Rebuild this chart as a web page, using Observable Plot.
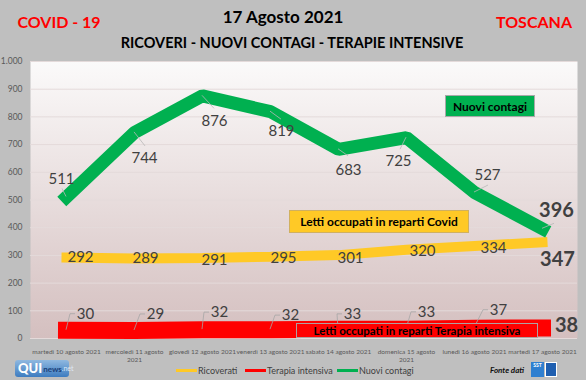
<!DOCTYPE html>
<html><head><meta charset="utf-8">
<script src="https://cdn.jsdelivr.net/npm/d3@7"></script>
<script src="https://cdn.jsdelivr.net/npm/@observablehq/plot@0.6"></script>
<style>
body{margin:0;background:#bfbfbf;font-family:Lato,"Open Sans",sans-serif;}
#wrap{position:relative;width:586px;height:380px;overflow:hidden;background:#bfbfbf;}
#wrap svg{position:absolute;left:0;top:0;overflow:visible;}
.abs{position:absolute;white-space:nowrap;line-height:1;}
.c{transform:translate(-50%,-50%);}
.box{position:absolute;display:flex;align-items:center;justify-content:center;font-weight:bold;color:#000;box-sizing:border-box;white-space:nowrap;}
.leg{position:absolute;top:365px;font-size:9px;color:#404040;display:flex;align-items:center;}
.leg i{display:inline-block;width:21px;height:3px;margin-right:1px;}
</style></head><body><div id="wrap"></div>
<script>
// ---- data ----
const days = ["martedì 10 agosto 2021","mercoledì 11 agosto\n2021","giovedì 12 agosto 2021","venerdì 13 agosto 2021","sabato 14 agosto 2021","domenica 15 agosto\n2021","lunedì 16 agosto 2021","martedì 17 agosto 2021"];
const ricoverati = [292,289,291,295,301,320,334,347];
const terapiaIntensiva = [30,29,32,32,33,33,37,38];
const nuoviContagi = [511,744,876,819,683,725,527,396];
const yTicks = [0,100,200,300,400,500,600,700,800,900,1000];

// ---- layout (label nudges in px) ----
const greenNudge = [[-5,-18],[10,26],[12,25],[11,20],[10,21],[-8,24],[13,-17],[14,-18]];
const greenLeader = [[-4,-8],[11,14],[12,13],[11,8],[10,7],[-6,12],[14,-7],[12,-5]];
const yellowNudge = [[14,0],[11,0],[12,2],[13,1],[12,3],[16,1],[19,2],[15,17]];
const redNudge = [[19,-16],[21,-16],[17,-17],[20,-14],[14,-15],[20,-17],[24,-18],[24,-2]];

const rows = days.map((d,i)=>({day:d, ric:ricoverati[i], ti:terapiaIntensiva[i], nc:nuoviContagi[i]}));
const last = rows.length-1;
const labelFont = {fontSize:15, fill:"#404040", fontFamily:"Lato"};
const boldFont = {fontSize:20, fontWeight:"bold", fill:"#404040", fontFamily:"Lato"};

function labels(key, nudge){
  return rows.map((r,i)=>Plot.text([r], {x:"day", y:key, text:d=>String(d[key]), dx:nudge[i][0], dy:nudge[i][1], ...(i===last?boldFont:labelFont)}));
}

const defs = () => {
  const g = d3.create("svg:defs");
  const lg = g.append("linearGradient").attr("id","bgGrad").attr("x1",0).attr("y1",0).attr("x2",0).attr("y2",1);
  lg.append("stop").attr("offset","0%").attr("stop-color","#fbfafa");
  lg.append("stop").attr("offset","100%").attr("stop-color","#d4bfbf");
  return g.node();
};

const leaders = (index, scales) => {
  const g = d3.create("svg:g").attr("fill","none");
  rows.forEach((r,i)=>{
    const px = scales.x(r.day), pyN = scales.y(r.nc), pyT = scales.y(r.ti);
    g.append("line").attr("x1",px).attr("y1",pyN).attr("x2",px+greenLeader[i][0]).attr("y2",pyN+greenLeader[i][1])
      .attr("stroke","#b8b8b8").attr("stroke-width",0.8);
    if (i<last){
      const lx = px+redNudge[i][0], ly = pyT+redNudge[i][1];
      g.append("polyline").attr("points",`${px},${pyT} ${lx-15},${ly} ${lx-10},${ly}`)
        .attr("stroke","#a6a6a6").attr("stroke-width",0.8);
    }
  });
  return g.node();
};

const chart = Plot.plot({
  width:586, height:380,
  marginLeft:30, marginRight:9, marginTop:61, marginBottom:42,
  style:{background:"transparent", fontFamily:"Lato", overflow:"visible"},
  x:{type:"point", domain:days, padding:0.5},
  y:{domain:[0,1000]},
  marks:[
    defs,
    Plot.frame({fill:"url(#bgGrad)", stroke:"none"}),
    Plot.gridY(yTicks, {stroke:"#e4dada", strokeOpacity:1, strokeWidth:1}),
    Plot.axisY(yTicks, {tickSize:0, tickPadding:8, fontSize:8.5, fill:"#595959", label:null, tickFormat:d=>d3.format(",")(d).replace(",",".")}),
    Plot.axisX({tickSize:0, tickPadding:10, fontSize:6.5, fill:"#595959", label:null, lineHeight:1.2}),
    Plot.line(rows, {x:"day", y:"ti", stroke:"#ff0000", strokeWidth:17, strokeLinecap:"square", strokeLinejoin:"miter"}),
    Plot.line(rows, {x:"day", y:"ric", stroke:"#ffc926", strokeWidth:10, strokeLinecap:"square", strokeLinejoin:"miter"}),
    Plot.line(rows, {x:"day", y:"nc", stroke:"#00b050", strokeWidth:13, strokeLinecap:"square", strokeLinejoin:"miter"}),
    leaders,
    ...labels("nc", greenNudge),
    ...labels("ric", yellowNudge),
    ...labels("ti", redNudge)
  ]
});

const wrap = document.getElementById("wrap");
wrap.appendChild(chart);
wrap.insertAdjacentHTML("beforeend", `
<div class="abs c" style="left:283px;top:16px;font-size:17px;font-weight:bold;color:#000;">17 Agosto 2021</div>
<div class="abs c" style="left:292px;top:43px;font-size:14.5px;font-weight:bold;color:#000;">RICOVERI - NUOVI CONTAGI - TERAPIE INTENSIVE</div>
<div class="abs c" style="left:59px;top:22px;font-size:16px;font-weight:bold;color:#ff0000;">COVID - 19</div>
<div class="abs c" style="left:534px;top:22px;font-size:16px;font-weight:bold;color:#ff0000;">TOSCANA</div>
<div class="box" style="left:445px;top:95px;width:90px;height:22px;background:#00b050;border:1px solid #a9a9a9;font-size:12px;">Nuovi contagi</div>
<div class="box" style="left:289px;top:210px;width:180px;height:23px;background:#ffc926;border:1px solid #d0b060;font-size:12px;">Letti occupati in reparti Covid</div>
<div class="box" style="left:296px;top:323px;width:242px;height:15px;background:#ff0000;border:1px solid #b0a0a0;font-size:11.5px;">Letti occupati in reparti Terapia intensiva</div>
<div class="leg" style="left:176px;"><i style="background:#ffc926"></i>Ricoverati</div>
<div class="leg" style="left:245px;"><i style="background:#ff0000"></i>Terapia intensiva</div>
<div class="leg" style="left:337px;"><i style="background:#00b050"></i>Nuovi contagi</div>
<div class="abs" style="left:15px;top:360px;width:54px;height:17px;border-radius:3px;background:linear-gradient(#8fb8e0,#3d7cc0);display:flex;align-items:center;padding-left:3px;box-sizing:border-box;">
  <span style="font-size:13px;font-weight:900;color:#fff;font-family:Lato;">QUI</span><span style="font-size:8px;font-weight:bold;color:#1a3f7a;margin-left:1px;">news</span><span style="font-size:7px;color:#dfe9f5;">.net</span></div>
<div class="abs" style="left:490px;top:366px;font-size:8px;font-style:italic;font-weight:bold;color:#111;">Fonte dati</div>
<div class="abs" style="left:531px;top:362px;width:13px;height:15px;background:#2f7fd0;color:#fff;font-size:5px;font-weight:bold;text-align:center;padding-top:1px;box-sizing:border-box;">SST</div>
<div class="abs" style="left:545px;top:362px;width:12px;height:15px;background:#1f5fb0;border:1px solid #fff;box-sizing:border-box;"></div>
`);
</script></body></html>
